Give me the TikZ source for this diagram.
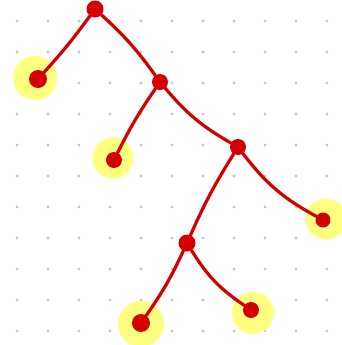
\documentclass[tikz,border=0pt]{standalone}
\definecolor{treered}{HTML}{D40000}
\definecolor{glow}{HTML}{FFFF80}
\definecolor{griddot}{HTML}{C8C8C8}
\tikzset{
  knot/.style={circle, fill=treered, inner sep=0pt, minimum size=16bp},
  halo/.style={circle, fill=glow, inner sep=0pt, minimum size=44bp},
  branch/.style={draw=treered, line width=3.2bp, line cap=round}
}
\begin{document}
\begin{tikzpicture}[x=1bp, y=-1bp]
  \useasboundingbox (0,0) rectangle (342,345);
  % dot grid
  \foreach \i in {0,...,10}
    \foreach \j in {0,...,10}
      \fill[griddot] (17+31*\i, 21+31*\j) circle (1.6bp);
  % highlights behind the leaves
  \node[halo] (hlA) at (35,78) {};
  \node[halo, minimum size=41bp] (hlB) at (113,158) {};
  \node[halo, minimum size=41bp] (hlC) at (326,219) {};
  \node[halo, minimum size=42bp] (hlD) at (253,313) {};
  \node[halo, minimum size=46bp] (hlE) at (141,324) {};
  % tree
  \node[knot, minimum size=17bp] (root) at (95,9) {};
  \node[knot] (n2) at (160,82) {};
  \node[knot] (n3) at (238,147) {};
  \node[knot, minimum size=17bp] (n4) at (187,243) {};
  \node[knot, minimum size=18bp] (lfA) at (38,79) {};
  \node[knot] (lfB) at (114,160) {};
  \node[knot, minimum size=15bp] (lfC) at (323,220) {};
  \node[knot] (lfD) at (251,310) {};
  \node[knot, minimum size=18bp] (lfE) at (141,323) {};
  \draw[branch] (root) to[bend left=3] (lfA);
  \draw[branch] (root) to[bend left=6] (n2);
  \draw[branch] (n2) to[bend right=4] (lfB);
  \draw[branch] (n2) to[bend right=10] (n3);
  \draw[branch] (n3) to[bend right=4] (n4);
  \draw[branch] (n3) to[bend right=12] (lfC);
  \draw[branch] (n4) to[bend left=5] (lfE);
  \draw[branch] (n4) to[bend right=12] (lfD);
\end{tikzpicture}
\end{document}
